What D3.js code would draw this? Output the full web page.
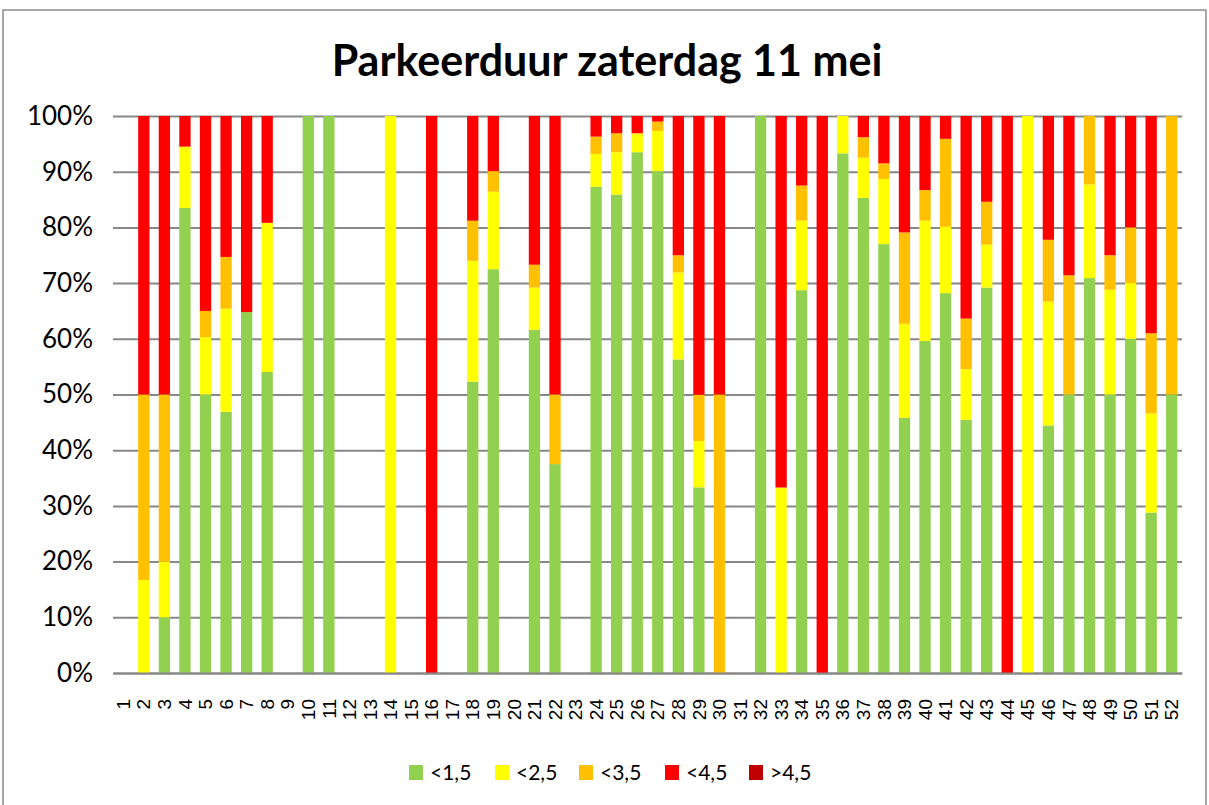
<!DOCTYPE html>
<html lang="nl">
<head>
<meta charset="UTF-8">
<title>Parkeerduur zaterdag 11 mei</title>
<script src="https://d3js.org/d3.v7.min.js"></script>
<style>
  html, body { margin: 0; padding: 0; background: #ffffff; }
  svg { display: block; }
</style>
</head>
<body>
<svg id="chart" width="1209" height="805"></svg>
<script>
// locations 1..52
const categories = d3.range(1, 53).map(String);
const seriesNames = ["<1,5", "<2,5", "<3,5", "<4,5", ">4,5"];
const seriesColors = ["#92d050", "#ffff00", "#ffc000", "#ff0000", "#c00000"];

// share per duration class (percent)
const lt15 = [0, 0, 10, 83.5, 50, 46.9, 64.8, 54.1, 0, 100, 100, 0, 0, 0, 0, 0, 0, 52.3, 72.5, 0, 61.6, 37.5, 0, 87.3, 85.9, 93.5, 90.1, 56.3, 33.3, 0, 0, 100, 0, 68.8, 0, 93.3, 85.3, 77.0, 45.8, 59.6, 68.2, 45.5, 69.2, 0, 0, 44.4, 50, 70.9, 50, 60, 28.8, 50];
const lt25 = [0, 16.7, 10, 11, 10.3, 18.5, 0, 26.8, 0, 0, 0, 0, 0, 100, 0, 0, 0, 21.7, 13.9, 0, 7.6, 0, 0, 5.9, 7.6, 3.4, 7.2, 15.6, 8.3, 0, 0, 0, 33.3, 12.5, 0, 6.7, 7.2, 11.7, 16.9, 21.6, 11.9, 9.1, 7.7, 0, 100, 22.2, 0, 16.8, 18.8, 10, 17.8, 0];
const lt35 = [0, 33.3, 30, 0, 4.7, 9.3, 0, 0, 0, 0, 0, 0, 0, 0, 0, 0, 0, 7.2, 3.7, 0, 4.1, 12.5, 0, 3.1, 3.4, 0, 1.7, 3.1, 8.3, 50, 0, 0, 0, 6.3, 0, 0, 3.7, 2.8, 16.4, 5.5, 15.8, 9.1, 7.7, 0, 0, 11.1, 21.4, 12.3, 6.2, 10, 14.4, 50];
const lt45 = [0, 50, 50, 5.5, 35, 25.3, 35.2, 19.2, 0, 0, 0, 0, 0, 0, 0, 100, 0, 18.8, 9.9, 0, 26.7, 50, 0, 3.7, 3.1, 3.1, 1.0, 25, 50, 50, 0, 0, 66.7, 12.5, 100, 0, 3.8, 8.5, 20.9, 13.3, 4.1, 36.4, 15.4, 100, 0, 22.2, 28.6, 0, 25, 20, 39, 0];
const gt45 = [0, 0, 0, 0, 0, 0, 0, 0, 0, 0, 0, 0, 0, 0, 0, 0, 0, 0, 0, 0, 0, 0, 0, 0, 0, 0, 0, 0, 0, 0, 0, 0, 0, 0, 0, 0, 0, 0, 0, 0, 0, 0, 0, 0, 0, 0, 0, 0, 0, 0, 0, 0];

const yTicks = [0, 0.1, 0.2, 0.3, 0.4, 0.5, 0.6, 0.7, 0.8, 0.9, 1];

const seriesValues = [lt15, lt25, lt35, lt45, gt45];
const rows = categories.map((c, i) => {
  const r = { cat: c };
  seriesNames.forEach((s, k) => { r[s] = seriesValues[k][i]; });
  return r;
});

const svg = d3.select("#chart");
const margin = { left: 113, right: 1182, top: 116, bottom: 673 };

// outer chart frame
svg.append("rect")
  .attr("x", 3).attr("y", 10).attr("width", 1203).attr("height", 820)
  .attr("fill", "#fff").attr("stroke", "#8c8c8c").attr("stroke-width", 1.5);

// title
svg.append("text")
  .attr("x", 607).attr("y", 76)
  .attr("text-anchor", "middle")
  .style("font-family", "Lato, 'Open Sans', sans-serif")
  .style("font-weight", 700)
  .style("font-size", "43px")
  .attr("fill", "#000")
  .text("Parkeerduur zaterdag 11 mei");

const x = d3.scaleBand()
  .domain(categories)
  .range([margin.left, margin.right])
  .paddingInner(0.45)
  .paddingOuter(0.225);

const y = d3.scaleLinear().domain([0, 1]).range([margin.bottom, margin.top]);

// gridlines + y labels
const yAxis = d3.axisLeft(y)
  .tickValues(yTicks)
  .tickFormat(d3.format(".0%"))
  .tickSize(-(margin.right - margin.left))
  .tickPadding(20);
const gy = svg.append("g").attr("transform", `translate(${margin.left},0)`).call(yAxis);
gy.select(".domain").remove();
gy.selectAll(".tick line").attr("stroke", "#888888").attr("stroke-width", 2);
gy.selectAll(".tick text")
  .style("font-family", "Lato, 'Open Sans', sans-serif")
  .style("font-size", "26px")
  .attr("fill", "#000");

// stacked bars
const stack = d3.stack().keys(seriesNames).offset(d3.stackOffsetExpand);
const layers = stack(rows);

svg.append("g").selectAll("g")
  .data(layers)
  .join("g")
  .attr("fill", (d, i) => seriesColors[i])
  .selectAll("rect")
  .data(d => d)
  .join("rect")
  .attr("x", d => x(d.data.cat))
  .attr("width", x.bandwidth())
  .attr("y", d => y(d[1]))
  .attr("height", d => Math.max(0, y(d[0]) - y(d[1])));

// x axis
const xAxis = d3.axisBottom(x).tickSize(0).tickPadding(0);
const gx = svg.append("g").attr("transform", `translate(0,${margin.bottom})`).call(xAxis);
gx.select(".domain").attr("stroke", "#888888").attr("stroke-width", 2);
gx.selectAll(".tick text")
  .attr("transform", "rotate(-90)")
  .attr("text-anchor", "end")
  .attr("x", -26)
  .attr("y", 0)
  .attr("dy", "0.35em")
  .style("font-family", "'Liberation Sans', Arial, sans-serif")
  .style("font-size", "19px")
  .attr("fill", "#000");

// legend
const legendX = [409, 495, 579, 665, 749];
const legend = svg.append("g").selectAll("g")
  .data(seriesNames)
  .join("g")
  .attr("transform", (d, i) => `translate(${legendX[i]},765)`);
legend.append("rect")
  .attr("width", 14).attr("height", 15)
  .attr("fill", (d, i) => seriesColors[i]);
legend.append("text")
  .attr("x", 21).attr("y", 8).attr("dy", "0.35em")
  .style("font-family", "Lato, 'Open Sans', sans-serif")
  .style("font-size", "21px")
  .attr("fill", "#000")
  .text(d => d);
</script>
</body>
</html>
